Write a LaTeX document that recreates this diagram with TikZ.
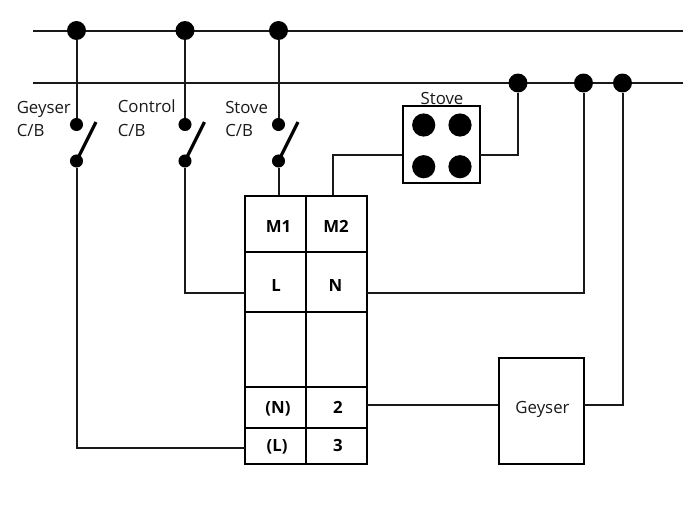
\documentclass[tikz,border=0pt]{standalone}
\usepackage{fontspec}
\setmainfont{Open Sans}
\begin{document}
\begin{tikzpicture}[x=0.75pt,y=-0.75pt,
  wire/.style={line width=1.5pt,black!90},
  busdot/.style={circle,fill=black,inner sep=0pt,minimum size=14.2pt},
  swdot/.style={circle,fill=black,inner sep=0pt,minimum size=9.8pt},
  hobdot/.style={circle,fill=black,inner sep=0pt,minimum size=17.4pt},
  cell/.style={draw=black,line width=1.5pt,inner sep=0pt,minimum width=45.75pt},
  celltxt/.style={inner sep=0pt,anchor=base,font=\fontsize{12.6pt}{14pt}\selectfont\bfseries},
  lab/.style={inner sep=0pt,font=\fontsize{12.6pt}{15pt}\selectfont,text=black!90},
  blade/.style={line width=2.4pt,black}]
\useasboundingbox (0,0) rectangle (697,507);
% bus ends
\coordinate (a1) at (33,30.5); \coordinate (a2) at (683,30.5);
\coordinate (b1) at (33,83);   \coordinate (b2) at (683,83);
\draw[wire] (a1) -- (a2);
\draw[wire] (b1) -- (b2);
% block cells
\node[cell,minimum height=42pt] (m1) at (275.5,223.5) {};
\node[cell,minimum height=42pt] (m2) at (336.5,223.5) {};
\node[cell,minimum height=45pt] (l) at (275.5,282) {};
\node[cell,minimum height=45pt] (n) at (336.5,282) {};
\node[cell,minimum height=56.25pt] (e1) at (275.5,349.5) {};
\node[cell,minimum height=56.25pt] (e2) at (336.5,349.5) {};
\node[cell,minimum height=30.75pt] (pn) at (275.5,407.5) {};
\node[cell,minimum height=30.75pt] (p2) at (336.5,407.5) {};
\node[cell,minimum height=27pt] (pl) at (275.5,446) {};
\node[cell,minimum height=27pt] (p3) at (336.5,446) {};
\node[celltxt] (tm1) at (278.5,232.5) {M1};
\node[celltxt] (tm2) at (336,232.5) {M2};
\node[celltxt] (tl) at (276,291.5) {L};
\node[celltxt] (tn) at (335.5,291.5) {N};
\node[celltxt] (tpn) at (278,413.5) {(N)};
\node[celltxt] (tp2) at (338,413.5) {2};
\node[celltxt] (tpl) at (277,451.5) {(L)};
\node[celltxt] (tp3) at (338,451.5) {3};
% loads
\node[draw=black,line width=1.5pt,minimum width=57.75pt,minimum height=57.75pt,inner sep=0pt] (stove) at (441.5,144.5) {};
\node[draw=black,line width=1.5pt,minimum width=63.4pt,minimum height=79.5pt,inner sep=0pt] (geyser) at (541.3,411) {};
\node[lab,anchor=base] (geyserlab) at (542.5,413) {Geyser};
\node[lab,anchor=base] (stovelab) at (442,104) {Stove};
\node[hobdot] (h1) at (423.7,125) {};
\node[hobdot] (h2) at (460,125) {};
\node[hobdot] (h3) at (423.7,166.7) {};
\node[hobdot] (h4) at (460,166.7) {};
% bus dots
\node[busdot] (d1) at (76.5,30.5) {};
\node[busdot] (d2) at (185,30.5) {};
\node[busdot] (d3) at (278.5,30.5) {};
\node[busdot] (d4) at (518,83) {};
\node[busdot] (d5) at (583.5,83) {};
\node[busdot] (d6) at (622.5,83) {};
% breakers
\node[swdot] (s1a) at (76.5,124.5) {};
\node[swdot] (s1b) at (76.5,161) {};
\node[swdot] (s2a) at (185,124.5) {};
\node[swdot] (s2b) at (185,161) {};
\node[swdot] (s3a) at (278.5,124.5) {};
\node[swdot] (s3b) at (278.5,161) {};
\coordinate (t1) at (96,122); \coordinate (t2) at (204.5,122); \coordinate (t3) at (298,122);
\draw[blade] (s1b.center) -- (t1);
\draw[blade] (s2b.center) -- (t2);
\draw[blade] (s3b.center) -- (t3);
% labels
\node[lab,anchor=base west] (g1) at (16.5,113) {Geyser};
\node[lab,anchor=base west] (g2) at (16.5,136) {C/B};
\node[lab,anchor=base west] (c1) at (117.5,112) {Control};
\node[lab,anchor=base west] (c2) at (117.5,136) {C/B};
\node[lab,anchor=base west] (v1) at (225,113) {Stove};
\node[lab,anchor=base west] (v2) at (225,136) {C/B};
% wires
\coordinate (plw) at (245,448);
\coordinate (lw) at (245,293);
\coordinate (ne) at (367,292.5);
\draw[wire] (d1) -- (s1a);
\draw[wire] (d2) -- (s2a);
\draw[wire] (d3) -- (s3a);
\draw[wire] (s1b) |- (plw);
\draw[wire] (s2b) |- (lw);
\draw[wire] (s3b) -- (m1.north -| s3b);
\coordinate (m2t) at (333,195);
\coordinate (st) at (333,155);
\draw[wire] (m2t) -- (st) -- (st -| stove.west);
\coordinate (sr) at (480,155);
\draw[wire] (sr) -| (d4);
\draw[wire] (ne) -| (d5);
\coordinate (p2r) at (367,404.5);
\draw[wire] (p2r) -- (p2r -| geyser.west);
\coordinate (gr) at (583.5,404.5);
\draw[wire] (gr) -| (d6);
\end{tikzpicture}
\end{document}
